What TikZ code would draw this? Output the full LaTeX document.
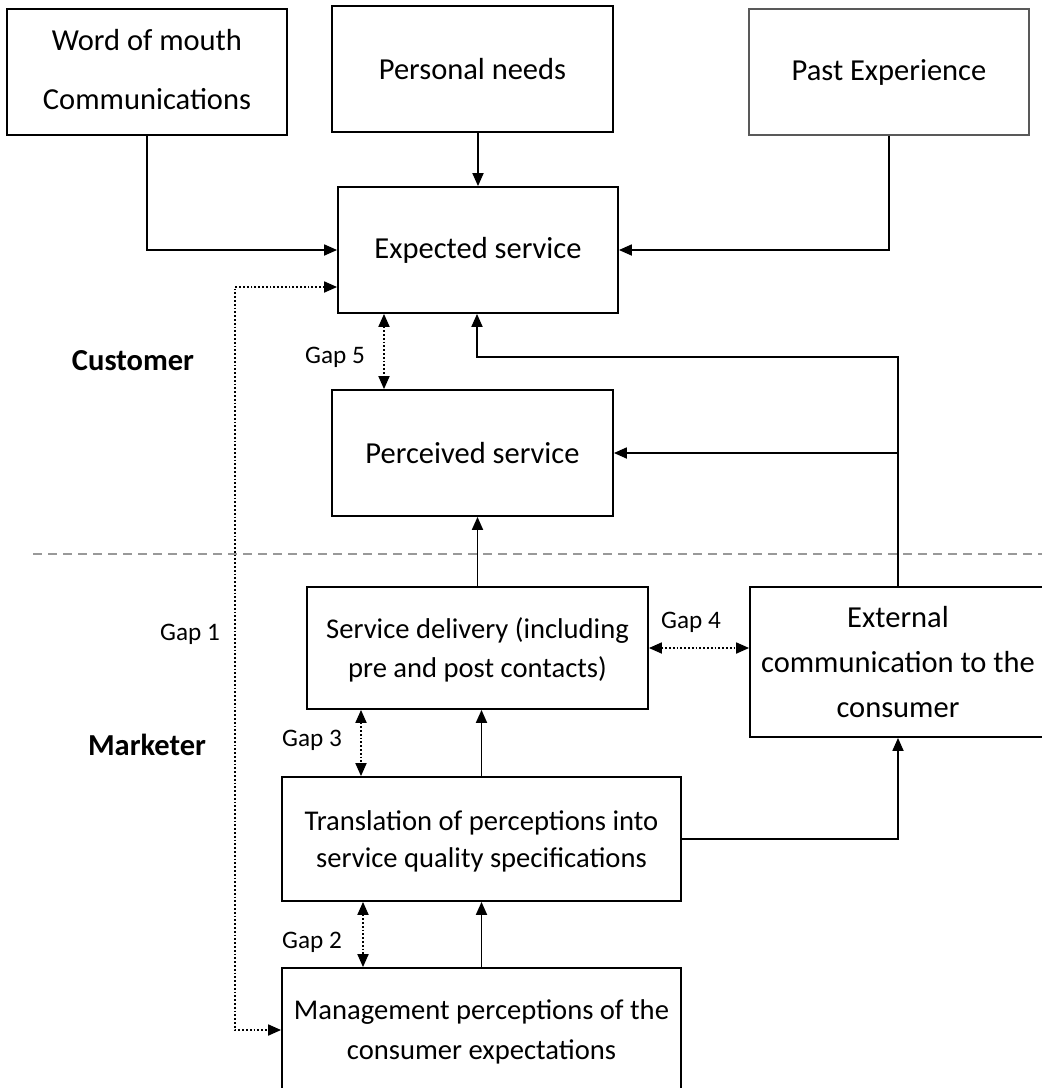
\documentclass[tikz,border=0pt]{standalone}
\usepackage{fontspec}
\setmainfont{Carlito}
\usetikzlibrary{arrows.meta}

\tikzset{
  box/.style={draw, line width=0.9pt, align=center, inner sep=0pt, font=\fontsize{15.25}{19.5}\selectfont},
  smallbox/.style={box, font=\fontsize{14.3}{19.5}\selectfont},
  arr/.style={line width=0.9pt, -{Triangle[length=6.5pt,width=5.5pt]}},
  gaparr/.style={line width=0.9pt, densely dotted, {Triangle[length=6.5pt,width=5.5pt]}-{Triangle[length=6.5pt,width=5.5pt]}},
  gaplabel/.style={font=\fontsize{12.6}{15}\selectfont},
  side/.style={font=\fontsize{15.25}{19}\selectfont\bfseries}
}

\begin{document}
\begin{tikzpicture}[x=0.5pt,y=-0.5pt]
\useasboundingbox (0,0) rectangle (1042,1088);
\clip (0,0) rectangle (1042,1088);

% customer side
\node[box, text depth=3pt, minimum width=140pt, minimum height=63pt] (wom) at (147,72) {Word of mouth\\[10pt]Communications};
\node[box, minimum width=140.5pt, minimum height=63pt] (needs) at (472.5,69) {Personal needs};
\node[box, draw=gray!70!black, line width=0.6pt, minimum width=140pt, minimum height=63pt] (past) at (889,72) {Past Experience};
\node[box, minimum width=140pt, minimum height=63pt] (expect) at (478,250) {Expected service};
\node[box, minimum width=140.5pt, minimum height=63pt] (perceived) at (472.5,453) {Perceived service};

% marketer side
\node[smallbox, text depth=-1pt, minimum width=170.5pt, minimum height=61pt] (delivery) at (477.5,648) {Service delivery (including\\pre and post contacts)};
\node[box, minimum width=148pt, minimum height=75pt] (external) at (898,662) {External\\[3pt]communication to the\\[3pt]consumer};
\node[smallbox, text depth=-4.5pt, minimum width=199.5pt, minimum height=62pt] (trans) at (481.5,839) {Translation of perceptions into\\[-1pt]service quality specifications};
\node[smallbox, text depth=-1pt, minimum width=199.5pt, minimum height=62pt] (mgmt) at (481.5,1030) {Management perceptions of the\\[0.5pt]consumer expectations};

\node[side] (cust) at (133,361) {Customer};
\node[side] (mark) at (147,745) {Marketer};
\node[gaplabel] (gap1) at (190,634) {Gap 1};
\node[gaplabel] (gap2) at (312,942) {Gap 2};
\node[gaplabel] (gap3) at (312,740) {Gap 3};
\node[gaplabel] (gap4) at (691,622) {Gap 4};
\node[gaplabel] (gap5) at (335,357) {Gap 5};

\coordinate (divl) at (33,554);
\coordinate (divr) at (1042,554);
\draw[gray!80, line width=0.9pt, dash pattern=on 4.5pt off 3pt] (divl) -- (divr);

\draw[arr] (wom.south) |- (expect.west);
\draw[arr] (expect.north |- needs.south) -- (expect.north);
\draw[arr] (past.south) |- (expect.east);

\coordinate (e1) at ([yshift=-18.5pt]expect.west);
\coordinate (g1) at (235,0);
\draw[gaparr] (e1) -| (g1 |- mgmt.west) -- (mgmt.west);

\coordinate (g5) at (384,0);
\draw[gaparr] (g5 |- expect.south) -- (g5 |- perceived.north);

\coordinate (loop) at (477,357);
\draw[arr] (external.north) |- (loop) -- (loop |- expect.south);
\draw[arr] (external.north |- perceived.east) -- (perceived.east);

\draw[arr] (delivery.north) -- (delivery.north |- perceived.south);
\draw[gaparr] (delivery.east) -- (delivery.east -| external.west);

\coordinate (g3) at (361,0);
\draw[gaparr] (g3 |- delivery.south) -- (g3 |- trans.north);
\draw[arr] (trans.north) -- (trans.north |- delivery.south);
\draw[arr] (trans.east) -| (external.south);

\coordinate (g2) at (363,0);
\draw[gaparr] (g2 |- trans.south) -- (g2 |- mgmt.north);
\draw[arr] (mgmt.north) -- (mgmt.north |- trans.south);

\end{tikzpicture}
\end{document}
